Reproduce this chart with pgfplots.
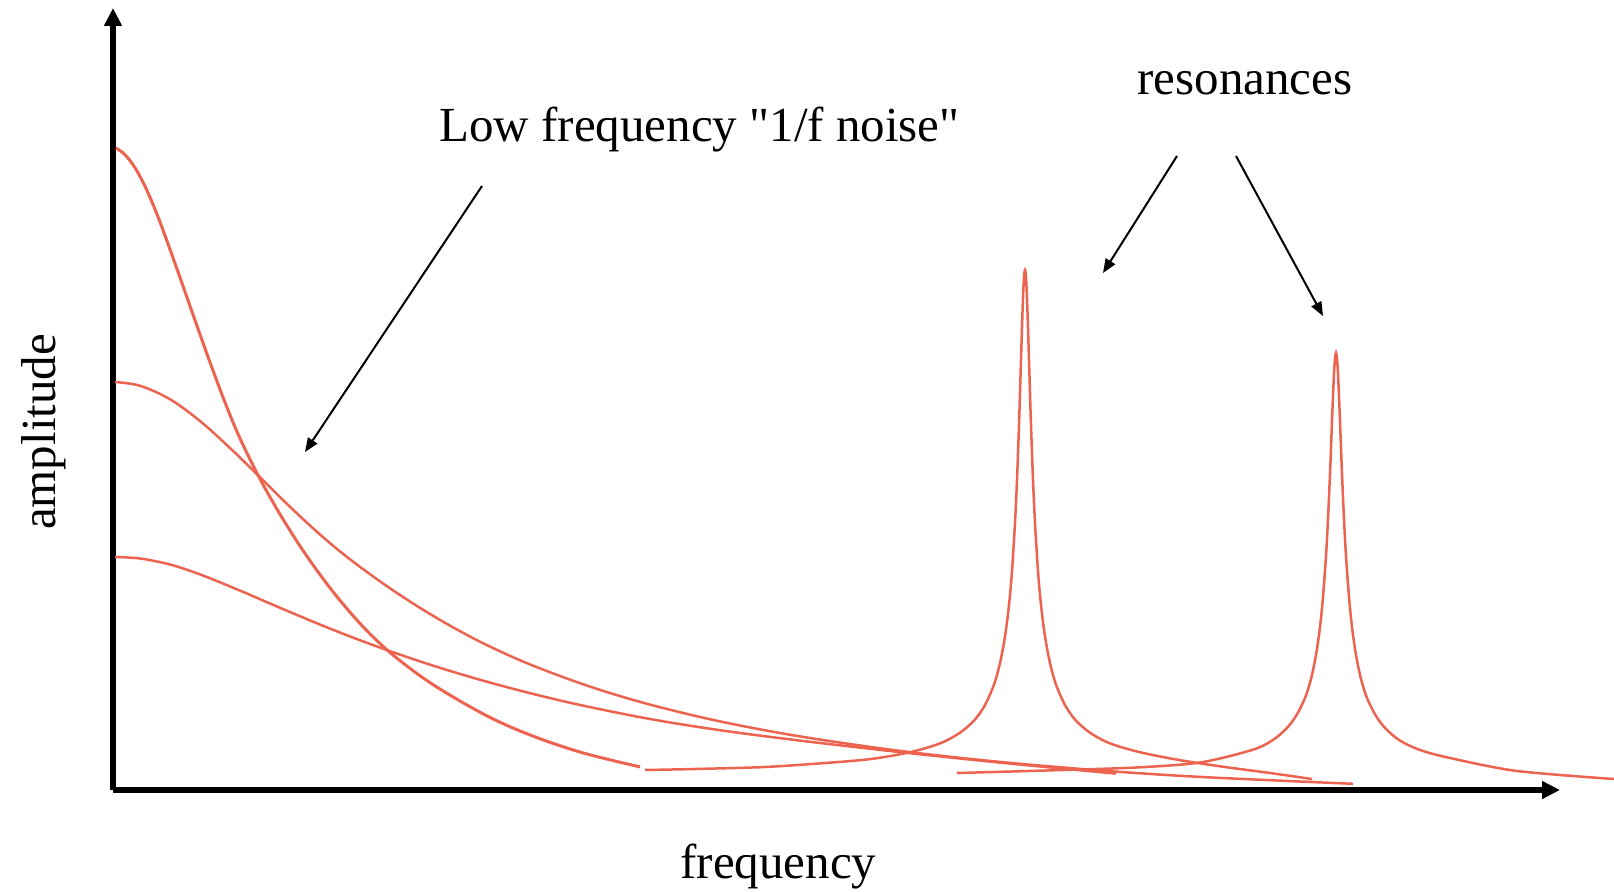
\documentclass[border=0pt]{standalone}
\usepackage{fontspec}
\setmainfont{Liberation Serif}[Ligatures=TeXOff]
\usepackage{pgfplots}
\pgfplotsset{compat=1.18}
\usetikzlibrary{arrows.meta}
\definecolor{curve}{RGB}{236,100,80}
\begin{document}
\begin{tikzpicture}
\useasboundingbox (0,0) rectangle (807pt,445.5pt);
\begin{axis}[
  at={(56.5pt,50.5pt)}, anchor=south west,
  x=0.5pt, y=0.5pt,
  xmin=113, xmax=1560, ymin=101, ymax=883,
  axis lines=left,
  ticks=none,
  clip=false,
  axis line style={line width=2.65pt},
  x axis line style={-{Triangle[length=9pt,width=8.5pt]}},
  y axis line style={-{Triangle[length=9pt,width=8.5pt]}},
  font=\fontsize{24.5pt}{29pt}\selectfont,
]
% steep low-frequency curve
\addplot[curve, line width=1.5pt, smooth, tension=0.55, no marks] coordinates {(116,743) (125,736.25) (135,723.25) (145,704.75) (155,681.75) (165,655.5) (180,613.5) (195,570.75) (210,528.75) (225,488.6) (240,452.6) (260,412.1) (280,376.8) (300,345) (320,316.4) (340,290.6) (365,262.2) (393,236) (433,206.4) (487,175.1) (533,154.9) (583,138.1) (640,124.1)};
% middle low-frequency curve
\addplot[curve, line width=1.25pt, smooth, tension=0.55, no marks] coordinates {(115,509) (140,505.25) (170,491.75) (200,470) (230,443) (260,413.75) (290,384.2) (320,356.5) (350,331.7) (390,302.7) (433,275.2) (480,249.3) (530,226.6) (590,204.4) (650,186.4) (720,169.6) (800,154.6) (900,140.1) (1000,129.1) (1100,120.6) (1200,114.1) (1353,107.2)};
% lowest low-frequency curve
\addplot[curve, line width=1.25pt, smooth, tension=0.55, no marks] coordinates {(115,334) (140,332.5) (170,326.5) (200,316.6) (240,300.4) (280,283.2) (330,262.4) (380,243.4) (433,225.4) (483,210.4) (533,197.1) (583,185.4) (650,172) (720,160.8) (800,150.4) (900,138.9) (1000,128.4) (1116,117.4)};
% resonance 1
\addplot[curve, line width=1.25pt, smooth, tension=0.5, no marks] coordinates {(645,121) (695,122) (765,124) (825,128) (871,132) (911,139) (941,148) (961,159) (975,171.5) (985,186) (994,206.4) (1000,228) (1005,254.5) (1009,286) (1012,320) (1015,368) (1017,411) (1019,466) (1020,498) (1021,531) (1022,564) (1023,593) (1024,614) (1025,621) (1026,614) (1027,593) (1028,564) (1029,531) (1030,498) (1031,466) (1033,411) (1035,368) (1038,320) (1041,286) (1045,254.5) (1050,228) (1056,206.4) (1065,186) (1075,171.5) (1089,159) (1109,148) (1139,139) (1179,131) (1225,124) (1270,118) (1312,112)};
% resonance 2
\addplot[curve, line width=1.25pt, smooth, tension=0.5, no marks] coordinates {(957,118) (1046,120.5) (1136,123.5) (1200,128.5) (1252,141) (1272,150.4) (1286,162) (1296,175) (1305,193) (1311,212) (1316,236) (1320,264) (1323,294) (1326,335) (1328,372) (1330,417) (1331,443) (1332,469.5) (1333,495) (1334,517) (1335,532.5) (1336,538) (1337,532.5) (1338,517) (1339,495) (1340,469.5) (1341,443) (1342,417) (1344,372) (1346,335) (1349,294) (1352,264) (1356,236) (1361,212) (1367,193) (1376,175) (1386,162) (1400,150.4) (1420,141) (1450,133) (1517,120) (1614,112)};
% annotation arrows
\addplot[black, line width=1pt, sharp plot, no marks, -{Triangle[length=7pt,width=5.5pt]}] coordinates {(482,705) (305,439)};
\addplot[black, line width=1pt, sharp plot, no marks, -{Triangle[length=7pt,width=5.5pt]}] coordinates {(1177,735) (1103,618)};
\addplot[black, line width=1pt, sharp plot, no marks, -{Triangle[length=7pt,width=5.5pt]}] coordinates {(1236,735) (1323,575)};
% texts
\node[anchor=base west, inner sep=0pt] at (axis cs:439,749) {Low frequency "1/f noise"};
\node[anchor=base west, inner sep=0pt] at (axis cs:1137,796.5) {resonances};
\node[anchor=base west, inner sep=0pt] at (axis cs:680,13) {frequency};
\node[anchor=base, rotate=90, inner sep=0pt] at (axis cs:56,459) {amplitude};
\end{axis}
\end{tikzpicture}
\end{document}
